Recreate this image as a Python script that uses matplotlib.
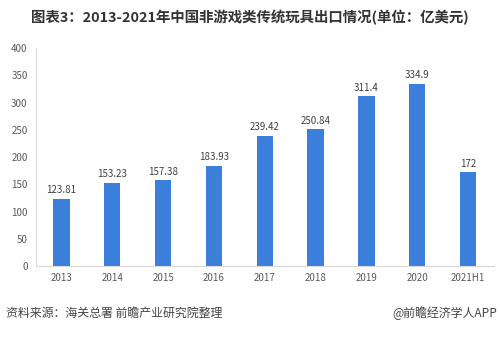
import matplotlib
matplotlib.use("Agg")
from matplotlib import pyplot as plt

plt.rcParams['font.family'] = ['Noto Sans CJK SC', 'DejaVu Sans']

years = ["2013", "2014", "2015", "2016", "2017", "2018", "2019", "2020", "2021H1"]
exports = [123.81, 153.23, 157.38, 183.93, 239.42, 250.84, 311.4, 334.9, 172]
labels = ["123.81", "153.23", "157.38", "183.93", "239.42", "250.84", "311.4", "334.9", "172"]

fig = plt.figure(figsize=(5, 3.42), dpi=100)
ax = fig.add_axes([0.072, 0.222, 0.915, 0.637])

x = range(len(years))
ax.bar(x, exports, width=0.32, color="#3b7fdb")
for i, v in enumerate(exports):
    ax.text(i, v + 7, labels[i], ha="center", va="bottom", fontsize=7, color="#404040")

ax.set_xlim(-0.5, len(years) - 0.5)
ax.set_ylim(0, 400)
ax.set_yticks(range(0, 401, 50))
ax.set_xticks(list(x))
ax.set_xticklabels(years)
ax.tick_params(axis="both", length=0, labelsize=7, colors="#595959")
ax.tick_params(axis="y", pad=6)
ax.tick_params(axis="x", pad=5)
for s in ["top", "right"]:
    ax.spines[s].set_visible(False)
ax.spines["left"].set_color("#d9d9d9")
ax.spines["bottom"].set_color("#d9d9d9")

fig.text(0.5, 0.948, "图表3：2013-2021年中国非游戏类传统玩具出口情况(单位：亿美元)",
         ha="center", va="center", fontsize=10.4, fontweight="bold", color="#333333")
fig.text(0.012, 0.085, "资料来源：海关总署 前瞻产业研究院整理", ha="left", va="center",
         fontsize=8.6, color="#444444")
fig.text(0.995, 0.085, "@前瞻经济学人APP", ha="right", va="center",
         fontsize=8.6, color="#444444")

fig.savefig("out.png", dpi=100)
